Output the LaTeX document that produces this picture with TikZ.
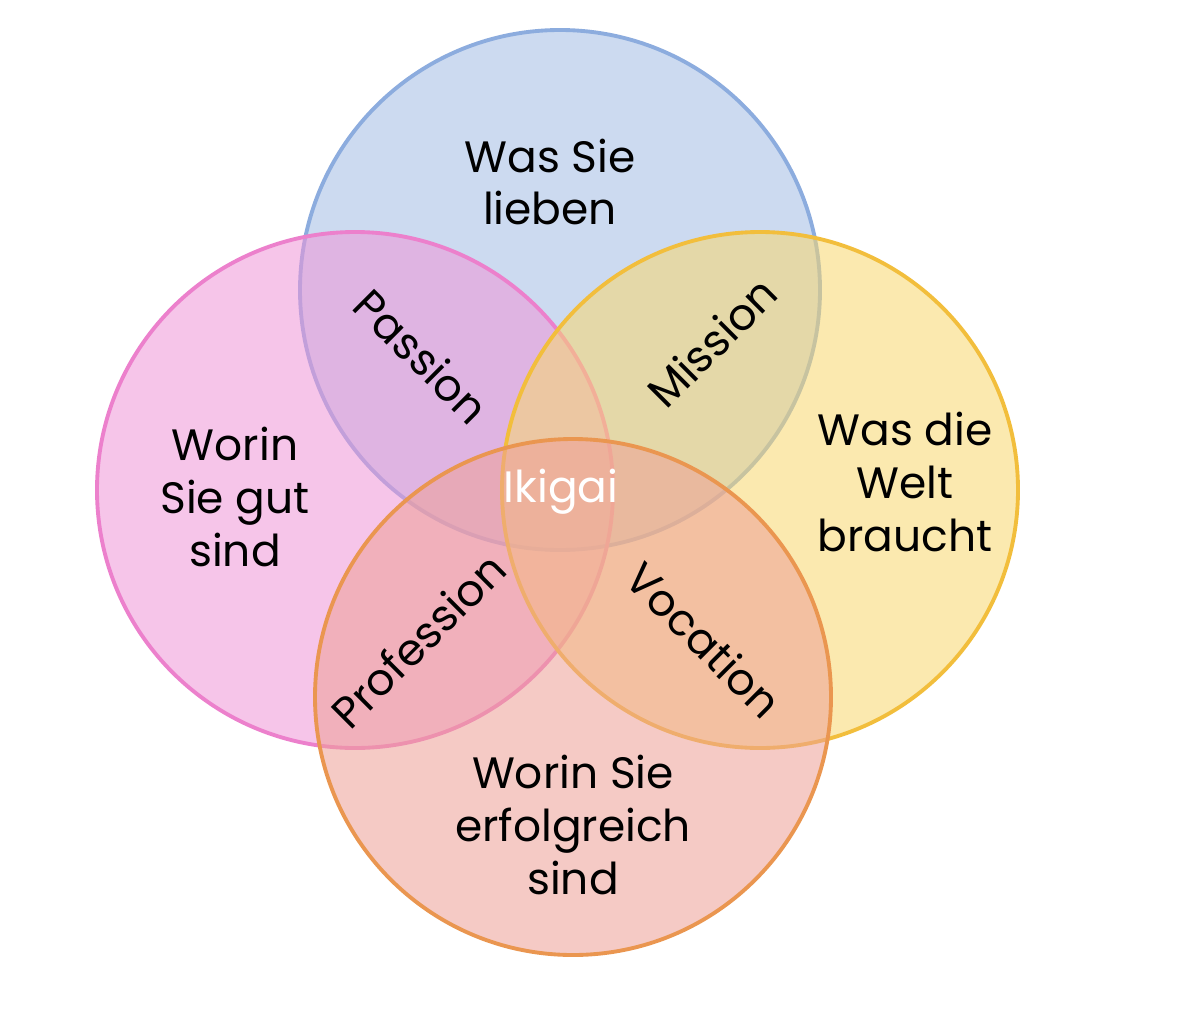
\documentclass[tikz,border=0pt]{standalone}
\usepackage{fontspec}
\setmainfont{Poppins}
\definecolor{ikblue}{RGB}{140,172,222}
\definecolor{ikpink}{RGB}{236,128,204}
\definecolor{ikyellow}{RGB}{242,190,60}
\definecolor{ikorange}{RGB}{234,150,80}
\definecolor{ikpinkfill}{RGB}{240,150,215}
\definecolor{ikyellowfill}{RGB}{248,215,110}
\definecolor{ikorangefill}{RGB}{238,160,150}
\begin{document}
\begin{tikzpicture}[x=0.02cm,y=-0.02cm,
  ring/.style={line width=2.2pt, fill opacity=0.55},
  lbl/.style={font=\fontsize{25}{30}\selectfont, align=center, text=black}]
\useasboundingbox (0,0) rectangle (1200,1028);
% Circles
\fill[white] (0,0) rectangle (1200,1028);
\draw[ring, draw=ikblue, fill=ikblue!80] (560,290) circle (260);
\draw[ring, draw=ikpink, fill=ikpinkfill] (355,490) circle (258);
\draw[ring, draw=ikyellow, fill=ikyellowfill] (760,490) circle (258);
\draw[ring, draw=ikorange, fill=ikorangefill] (573,697) circle (258);

% Labels
\node[lbl] (love) at (550,182) {Was Sie\\lieben};
\node[lbl] (good) at (235,497) {Worin\\Sie gut\\sind};
\node[lbl] (world) at (905,482) {Was die\\Welt\\braucht};
\node[lbl] (paid) at (573,825) {Worin Sie\\erfolgreich\\sind};
\node[lbl, rotate=-45] (passion) at (422,356) {Passion};
\node[lbl, rotate=45] (mission) at (712,342) {Mission};
\node[lbl, rotate=45] (profession) at (418,640) {Profession};
\node[lbl, rotate=-45] (vocation) at (704,640) {Vocation};
\node[lbl, text=white] (ikigai) at (561,492) {Ikigai};
\end{tikzpicture}
\end{document}
